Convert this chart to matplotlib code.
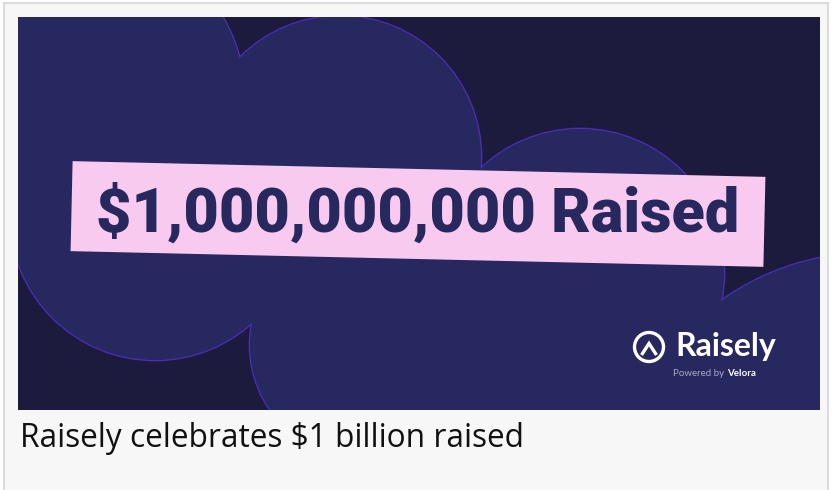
import matplotlib
matplotlib.use("Agg")
import matplotlib.pyplot as plt
from matplotlib.patches import Rectangle, Circle
from matplotlib.lines import Line2D
import matplotlib.transforms as mtransforms

W, H = 833, 490

# texts shown in the picture
headline = "$1,000,000,000 Raised"
brand = "Raisely"
powered = "Powered by "
partner = "Velora"
caption = "Raisely celebrates $1 billion raised"

# cloud lobes behind the banner (centre x, centre y, radius), picture pixels
lobe_x = [80, 155, 340, 580, 364, 520, 870]
lobe_y = [100, 215, 157, 273, 345, 470, 508]
lobe_r = [165, 145, 141, 144, 114, 200, 255]

DARK = "#1c1b3d"
BLOB = "#27285f"
EDGE = "#4a2db8"
PINK = "#f9caf0"
NAVY = "#27285e"

fig = plt.figure(figsize=(W / 100, H / 100), dpi=100)
fig.patch.set_facecolor("white")
ax = fig.add_axes([0, 0, 1, 1])
ax.set_xlim(0, W)
ax.set_ylim(H, 0)
ax.axis("off")

# card frame
ax.add_patch(Rectangle((4, 3), 824, 520, fc="#f7f7f7", ec="#dcdcdc", lw=1.5))

# image area
img = Rectangle((18, 17), 802, 393, fc=DARK, ec="none")
ax.add_patch(img)

# lobes: outline pass then fill pass so only the union border shows
for cx, cy, r in zip(lobe_x, lobe_y, lobe_r):
    c = Circle((cx, cy), r + 1.3, fc=EDGE, ec="none")
    ax.add_patch(c)
    c.set_clip_path(img)
for cx, cy, r in zip(lobe_x, lobe_y, lobe_r):
    c = Circle((cx, cy), r, fc=BLOB, ec="none")
    ax.add_patch(c)
    c.set_clip_path(img)

# pink banner, slightly tilted
bx, by, bw, bh, bang = 418, 214, 693, 90, 1.3
rot = mtransforms.Affine2D().rotate_deg_around(bx, by, bang) + ax.transData
ax.add_patch(Rectangle((bx - bw / 2, by - bh / 2), bw, bh, fc=PINK, ec="none",
                       transform=rot))

def fit(t, width):
    fig.canvas.draw()
    w = t.get_window_extent().width
    t.set_fontsize(t.get_fontsize() * width / w)

t = ax.text(418, 232, headline, ha="center", va="baseline", color=NAVY,
            fontsize=40, fontweight=900, family=["Roboto", "DejaVu Sans"])
fit(t, 643)

# logo
ax.add_patch(Circle((649, 347), 14.5, fill=False, ec="white", lw=2.4))
ax.add_line(Line2D([641.5, 649, 656.5], [355, 343.5, 355], color="white",
                   lw=2.4, solid_joinstyle="miter", solid_capstyle="butt"))
tb = ax.text(675, 356, brand, ha="left", va="baseline", color="white",
             fontsize=20, fontweight="bold", family=["Lato", "DejaVu Sans"])
fit(tb, 101)
tp = ax.text(673, 376, powered, ha="left", va="baseline", color="#a9a9c4",
             fontsize=7, family=["Lato", "DejaVu Sans"])
fig.canvas.draw()
bb = tp.get_window_extent()
x_end = ax.transData.inverted().transform((bb.x1, bb.y0))[0]
ax.text(x_end, 376, partner, ha="left", va="baseline", color="white",
        fontsize=7, fontweight="bold", family=["Lato", "DejaVu Sans"])

# caption
tc = ax.text(20, 447, caption, ha="left", va="baseline", color="#111111",
             fontsize=20, family=["Open Sans", "DejaVu Sans"])
fit(tc, 504)

fig.savefig("out.png", dpi=100, facecolor=fig.get_facecolor())
